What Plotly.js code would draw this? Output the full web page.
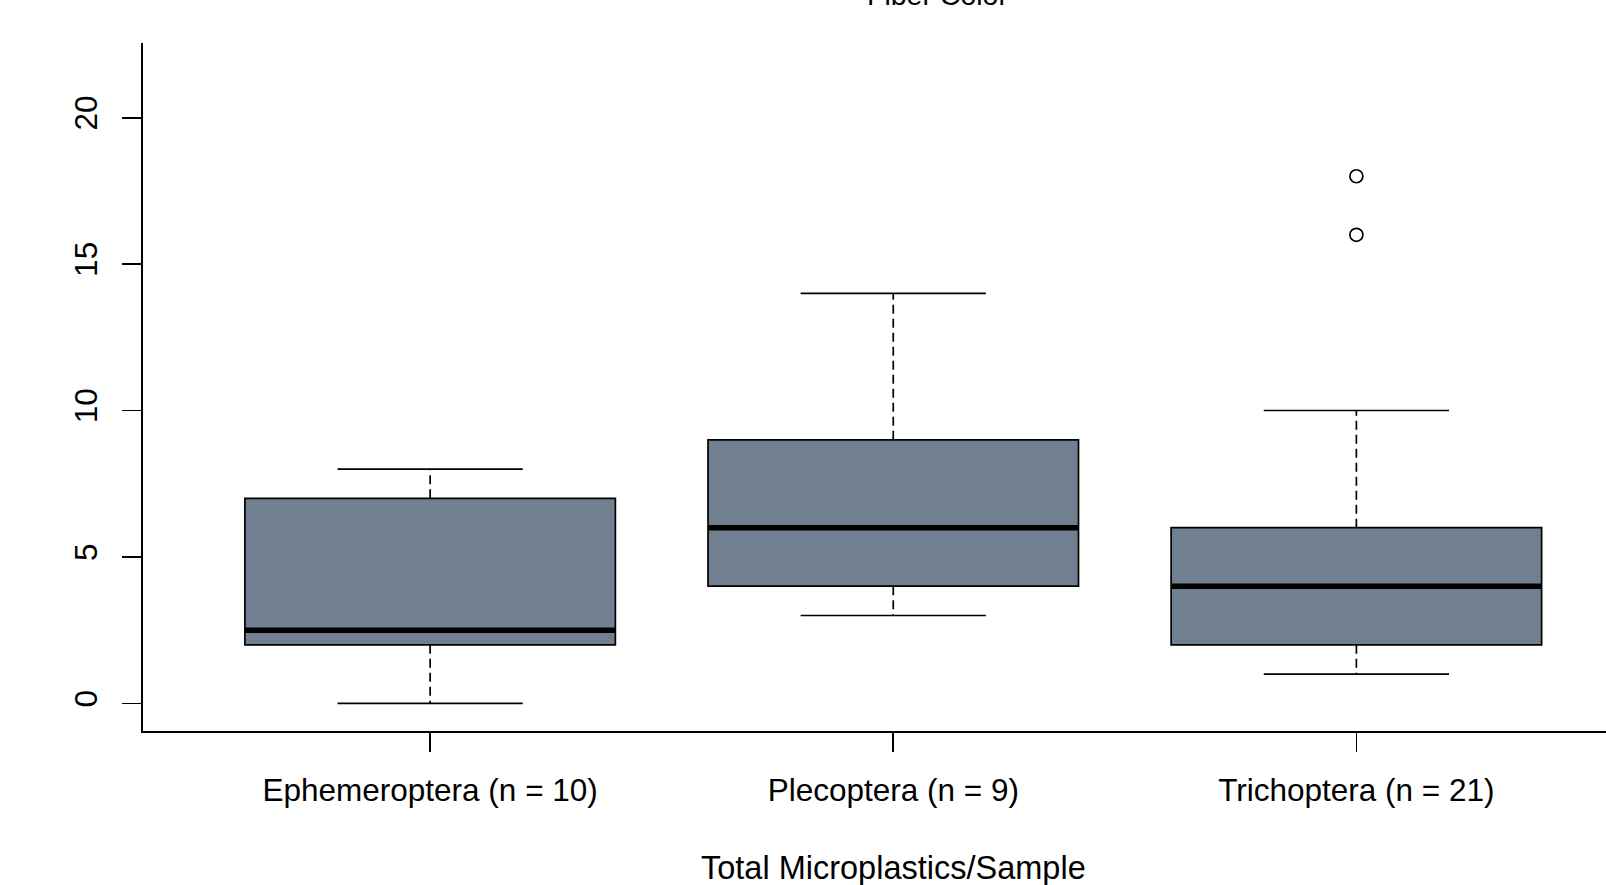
<!DOCTYPE html>
<html>
<head>
<meta charset="utf-8">
<script src="https://cdn.plot.ly/plotly-3.0.1.min.js"></script>
<style>
  html, body { margin: 0; padding: 0; background: #fff; }
  #chart { width: 1606px; height: 885px; }
</style>
</head>
<body>
<div id="chart"></div>
<script>
// Microplastic fibres per sample, by insect order
const groups = ['Ephemeroptera (n = 10)', 'Plecoptera (n = 9)', 'Trichoptera (n = 21)'];
const positions = [1, 2, 3];
const lowerWhisker = [0, 3, 1];
const q1 = [2, 4, 2];
const median = [2.5, 6, 4];
const q3 = [7, 9, 6];
const upperWhisker = [8, 14, 10];
const outlierGroup = [3, 3];
const outlierValue = [16, 18];
const yTicks = [0, 5, 10, 15, 20];

const BOX_HALF = 0.4;
const CAP_HALF = 0.2;
const FILL = '#708090';
const FONT = 'Liberation Sans, Arial, sans-serif';

// dashed whisker stems
const stemX = [], stemY = [];
// whisker caps
const capX = [], capY = [];
// thick median bars
const medX = [], medY = [];
positions.forEach((p, i) => {
  stemX.push(p, p, null, p, p, null);
  stemY.push(q3[i], upperWhisker[i], null, q1[i], lowerWhisker[i], null);
  capX.push(p - CAP_HALF, p + CAP_HALF, null, p - CAP_HALF, p + CAP_HALF, null);
  capY.push(upperWhisker[i], upperWhisker[i], null, lowerWhisker[i], lowerWhisker[i], null);
  medX.push(p - BOX_HALF, p + BOX_HALF, null);
  medY.push(median[i], median[i], null);
});

const traces = [
  {
    type: 'scatter', mode: 'lines', x: stemX, y: stemY,
    line: { color: '#000', width: 1.7, dash: '9px,5px' },
    hoverinfo: 'skip', showlegend: false
  },
  {
    type: 'scatter', mode: 'lines', x: capX, y: capY,
    line: { color: '#000', width: 1.7 },
    hoverinfo: 'skip', showlegend: false
  },
  {
    type: 'box', x: positions,
    q1: q1, median: median, q3: q3,
    lowerfence: q1, upperfence: q3,
    width: 2 * BOX_HALF, whiskerwidth: 0,
    fillcolor: FILL,
    line: { color: '#000', width: 1.7 },
    boxpoints: false, showlegend: false
  },
  {
    type: 'scatter', mode: 'lines', x: medX, y: medY,
    line: { color: '#000', width: 5.5 },
    hoverinfo: 'skip', showlegend: false
  },
  {
    type: 'scatter', mode: 'markers', x: outlierGroup, y: outlierValue,
    marker: { symbol: 'circle-open', size: 13, color: '#000', line: { width: 1.7 } },
    hoverinfo: 'y', showlegend: false
  }
];

const layout = {
  width: 1606, height: 885,
  margin: { l: 143, r: 0, t: 43, b: 154, pad: 0 },
  paper_bgcolor: '#fff', plot_bgcolor: '#fff',
  font: { family: FONT, size: 31.5, color: '#000' },
  showlegend: false,
  xaxis: {
    range: [0.38, 3.539],
    tickmode: 'array', tickvals: positions, ticktext: groups,
    showline: true, linecolor: '#000', linewidth: 1.7,
    ticks: 'outside', ticklen: 19, tickwidth: 1.7, tickcolor: '#000',
    ticklabelstandoff: 11,
    showgrid: false, zeroline: false,
    tickfont: { family: FONT, size: 31.5, color: '#000' }
  },
  yaxis: {
    range: [-0.944, 22.55],
    tickmode: 'array', tickvals: yTicks, ticktext: yTicks.map(String),
    tickangle: -90,
    showline: true, linecolor: '#000', linewidth: 1.7,
    ticks: 'outside', ticklen: 19, tickwidth: 1.7, tickcolor: '#000',
    ticklabelstandoff: 13,
    showgrid: false, zeroline: false,
    tickfont: { family: FONT, size: 31.5, color: '#000' }
  },
  annotations: [
    {
      text: 'Fiber Color', xref: 'paper', yref: 'paper',
      x: (937 - 143) / (1606 - 143), y: 1 + (43 + 5) / 688,
      xanchor: 'center', yanchor: 'middle', showarrow: false,
      font: { family: FONT, size: 28.5, color: '#000' }
    },
    {
      text: 'Total Microplastics/Sample', xref: 'x', yref: 'paper',
      x: 2, y: -(868 - 731) / 688,
      xanchor: 'center', yanchor: 'middle', showarrow: false,
      font: { family: FONT, size: 32.5, color: '#000' }
    }
  ]
};

Plotly.newPlot('chart', traces, layout, { displayModeBar: false, staticPlot: true });
</script>
</body>
</html>
